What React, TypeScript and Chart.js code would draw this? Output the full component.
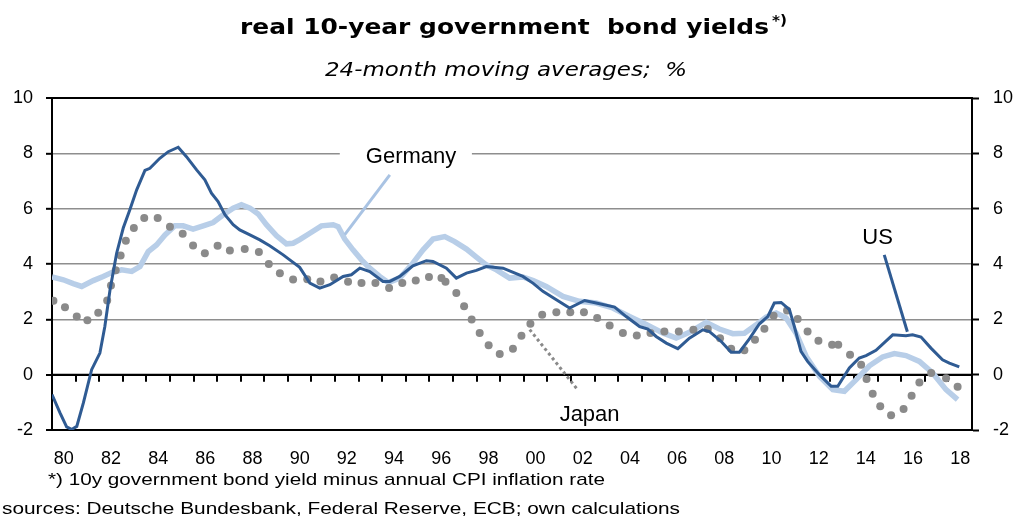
import React, { useEffect, useRef } from "react";
import { Chart, registerables } from "chart.js";

Chart.register(...registerables);

// ---------------- data ----------------
const usYears = [1980.0, 1980.34, 1980.62, 1980.83, 1981.05, 1981.33, 1981.68, 1982.03, 1982.24, 1982.46, 1982.74, 1983.02, 1983.3, 1983.59, 1983.94, 1984.15, 1984.57, 1984.93, 1985.35, 1985.7, 1986.13, 1986.48, 1986.76, 1987.04, 1987.33, 1987.68, 1987.96, 1988.39, 1988.81, 1989.23, 1989.8, 1990.08, 1990.5, 1990.93, 1991.35, 1991.78, 1992.34, 1992.69, 1993.05, 1993.47, 1994.03, 1994.32, 1994.74, 1995.3, 1995.87, 1996.15, 1996.72, 1997.14, 1997.57, 1997.99, 1998.41, 1999.12, 1999.96, 2000.4, 2000.81, 2001.38, 2001.94, 2002.58, 2003.07, 2003.85, 2004.34, 2004.91, 2005.26, 2005.61, 2006.04, 2006.53, 2007.02, 2007.59, 2007.87, 2008.37, 2008.79, 2009.14, 2009.57, 2009.99, 2010.34, 2010.62, 2010.91, 2011.26, 2011.47, 2011.75, 2012.03, 2012.53, 2013.03, 2013.31, 2013.8, 2014.22, 2014.51, 2014.93, 2015.64, 2016.2, 2016.48, 2016.84, 2017.26, 2017.75, 2018.04, 2018.46];
const usYield = [-0.72, -1.38, -1.89, -1.98, -1.87, -1.02, 0.18, 0.78, 1.74, 3.07, 4.39, 5.3, 5.96, 6.68, 7.38, 7.46, 7.82, 8.06, 8.22, 7.88, 7.4, 7.04, 6.56, 6.26, 5.78, 5.42, 5.23, 5.05, 4.87, 4.66, 4.33, 4.15, 3.88, 3.31, 3.13, 3.25, 3.55, 3.61, 3.85, 3.73, 3.37, 3.37, 3.55, 3.93, 4.12, 4.09, 3.85, 3.49, 3.67, 3.77, 3.91, 3.85, 3.55, 3.3, 3.01, 2.71, 2.41, 2.68, 2.59, 2.44, 2.1, 1.74, 1.65, 1.38, 1.14, 0.94, 1.32, 1.62, 1.56, 1.2, 0.81, 0.81, 1.3, 1.84, 2.1, 2.59, 2.61, 2.35, 1.74, 0.84, 0.48, 0.0, -0.42, -0.42, 0.24, 0.6, 0.69, 0.88, 1.44, 1.41, 1.44, 1.36, 0.96, 0.54, 0.42, 0.28];

const deYears = [1980.0, 1980.48, 1980.9, 1981.26, 1981.75, 1982.17, 1982.53, 1982.95, 1983.38, 1983.73, 1984.08, 1984.43, 1984.79, 1985.21, 1985.56, 1985.98, 1986.41, 1986.83, 1987.26, 1987.68, 1988.03, 1988.39, 1988.74, 1989.09, 1989.52, 1989.94, 1990.22, 1990.5, 1990.93, 1991.42, 1991.92, 1992.13, 1992.41, 1992.76, 1993.12, 1993.47, 1993.89, 1994.25, 1994.74, 1995.24, 1995.73, 1996.15, 1996.65, 1997.07, 1997.57, 1997.99, 1998.41, 1998.84, 1999.4, 1999.96, 2000.4, 2000.95, 2001.66, 2002.36, 2003.07, 2003.77, 2004.48, 2005.19, 2005.89, 2006.46, 2007.02, 2007.73, 2008.29, 2008.86, 2009.35, 2009.85, 2010.27, 2010.7, 2011.12, 2011.54, 2011.97, 2012.53, 2013.1, 2013.59, 2014.09, 2014.65, 2015.21, 2015.71, 2016.2, 2016.77, 2017.33, 2017.9, 2018.39];
const deYield = [3.53, 3.43, 3.29, 3.19, 3.4, 3.55, 3.69, 3.79, 3.73, 3.91, 4.45, 4.69, 5.05, 5.38, 5.38, 5.26, 5.38, 5.5, 5.78, 6.02, 6.14, 6.02, 5.81, 5.42, 5.02, 4.73, 4.75, 4.88, 5.11, 5.38, 5.42, 5.35, 4.9, 4.51, 4.15, 3.85, 3.55, 3.33, 3.49, 3.97, 4.51, 4.9, 4.99, 4.81, 4.54, 4.25, 3.97, 3.79, 3.49, 3.53, 3.4, 3.19, 2.83, 2.65, 2.59, 2.41, 2.1, 1.81, 1.51, 1.32, 1.53, 1.89, 1.65, 1.48, 1.5, 1.8, 2.08, 2.23, 2.05, 1.5, 0.66, -0.06, -0.54, -0.6, -0.18, 0.32, 0.64, 0.76, 0.69, 0.48, 0.06, -0.54, -0.9];

const jpYears = [1980.06, 1980.55, 1981.05, 1981.5, 1981.96, 1982.34, 1982.5, 1982.7, 1982.91, 1983.13, 1983.47, 1983.91, 1984.48, 1985.0, 1985.54, 1985.98, 1986.48, 1987.02, 1987.54, 1988.17, 1988.77, 1989.19, 1989.66, 1990.22, 1990.82, 1991.38, 1991.96, 1992.55, 1993.12, 1993.71, 1994.29, 1994.85, 1995.42, 1995.98, 1996.51, 1996.68, 1997.14, 1997.47, 1997.79, 1998.13, 1998.51, 1998.98, 1999.54, 1999.9, 2000.28, 2000.78, 2001.38, 2001.97, 2002.55, 2003.11, 2003.64, 2004.2, 2004.79, 2005.37, 2005.96, 2006.57, 2007.19, 2007.8, 2008.32, 2008.79, 2009.35, 2009.8, 2010.2, 2010.59, 2011.16, 2011.61, 2012.03, 2012.49, 2013.07, 2013.33, 2013.83, 2014.3, 2014.53, 2014.79, 2015.11, 2015.57, 2016.1, 2016.44, 2016.77, 2017.27, 2017.9, 2018.39];
const jpYield = [2.67, 2.44, 2.1, 1.97, 2.24, 2.68, 3.22, 3.77, 4.31, 4.84, 5.3, 5.66, 5.66, 5.35, 5.09, 4.67, 4.39, 4.66, 4.49, 4.54, 4.43, 4.0, 3.67, 3.44, 3.45, 3.37, 3.51, 3.36, 3.31, 3.31, 3.13, 3.31, 3.4, 3.53, 3.49, 3.36, 2.95, 2.47, 1.99, 1.51, 1.06, 0.75, 0.94, 1.41, 1.84, 2.17, 2.26, 2.26, 2.26, 2.05, 1.78, 1.51, 1.42, 1.51, 1.56, 1.56, 1.62, 1.65, 1.32, 0.94, 0.88, 1.26, 1.66, 2.13, 2.32, 2.01, 1.56, 1.23, 1.08, 1.08, 0.72, 0.36, -0.16, -0.69, -1.14, -1.47, -1.24, -0.76, -0.28, 0.06, -0.13, -0.44];

const xLabelYears = [1980, 1982, 1984, 1986, 1988, 1990, 1992, 1994, 1996, 1998, 2000, 2002, 2004, 2006, 2008, 2010, 2012, 2014, 2016, 2018];
const xLabels = ["80", "82", "84", "86", "88", "90", "92", "94", "96", "98", "00", "02", "04", "06", "08", "10", "12", "14", "16", "18"];
const yMin = -2;
const yMax = 10;
const yStep = 2;

const TITLE = "real 10-year government  bond yields";
const TITLE_SUP = "*)";
const SUBTITLE = "24-month moving averages;  %";
const FOOTNOTE = "*) 10y government bond yield minus annual CPI inflation rate";
const SOURCES = "sources: Deutsche Bundesbank, Federal Reserve, ECB; own calculations";

// annotation anchors in data units (year, %)
const germanyLabel = { text: "Germany", x: 1995.22, y: 7.66 };
const germanyLeader = [[1994.32, 7.22], [1992.41, 5.06]];
const germanyGridGap = [1992.2, 1997.8];
const usLabel = { text: "US", x: 2015.0, y: 4.72 };
const usLeader = [[2015.28, 4.33], [2016.26, 1.55]];
const japanLabel = { text: "Japan", x: 2002.79, y: -1.66 };
const japanLeader = [[2000.25, 1.63], [2002.28, -0.54]];

const US_COLOR = "#2f5b93";
const DE_COLOR = "#b8cee8";
const JP_COLOR = "#8a8a8a";
const GRID_GRAY = "#8e8e8e";

// draws text starting at `left`, stretched horizontally to span `width`
function drawSpanText(ctx: CanvasRenderingContext2D, text: string, left: number, baseline: number, font: string, width: number) {
  ctx.save();
  ctx.font = font;
  ctx.fillStyle = "#000";
  ctx.textAlign = "left";
  ctx.textBaseline = "alphabetic";
  const w = ctx.measureText(text).width;
  ctx.translate(left, baseline);
  ctx.scale(width / w, 1);
  ctx.fillText(text, 0, 0);
  ctx.restore();
}

function drawCenterText(ctx: CanvasRenderingContext2D, text: string, cx: number, baseline: number, font: string) {
  ctx.save();
  ctx.font = font;
  ctx.fillStyle = "#000";
  ctx.textAlign = "center";
  ctx.textBaseline = "alphabetic";
  ctx.fillText(text, cx, baseline);
  ctx.restore();
}

const decorPlugin = {
  id: "decor",
  beforeDatasetsDraw(chart: any) {
    const { ctx, scales } = chart;
    const x = scales.x, y = scales.y;
    // gap in the 8% gridline behind the "Germany" label
    ctx.save();
    ctx.fillStyle = "#fff";
    const x0 = x.getPixelForValue(germanyGridGap[0]);
    const x1 = x.getPixelForValue(germanyGridGap[1]);
    const y8 = y.getPixelForValue(8);
    ctx.fillRect(x0, y8 - 3, x1 - x0, 6);
    ctx.restore();
    // zero axis line with year tick marks
    const y0 = y.getPixelForValue(0);
    ctx.save();
    ctx.strokeStyle = "#000";
    ctx.lineWidth = 2;
    ctx.beginPath();
    ctx.moveTo(chart.chartArea.left, y0);
    ctx.lineTo(chart.chartArea.right, y0);
    for (let yr = 1981; yr <= 2018; yr++) {
      const px = Math.round(x.getPixelForValue(yr));
      ctx.moveTo(px, y0);
      ctx.lineTo(px, y0 + 7);
    }
    ctx.stroke();
    ctx.restore();
  },
  afterDatasetsDraw(chart: any) {
    const { ctx, scales } = chart;
    const x = scales.x, y = scales.y;
    const P = (p: number[]) => [x.getPixelForValue(p[0]), y.getPixelForValue(p[1])];
    const leader = (pts: number[][], color: string, width: number, dash: number[]) => {
      const a = P(pts[0]);
      const b = P(pts[1]);
      ctx.save();
      ctx.strokeStyle = color;
      ctx.lineWidth = width;
      ctx.setLineDash(dash);
      ctx.beginPath();
      ctx.moveTo(a[0], a[1]);
      ctx.lineTo(b[0], b[1]);
      ctx.stroke();
      ctx.restore();
    };
    leader(germanyLeader, "#a9c3e3", 3, []);
    leader(usLeader, US_COLOR, 3, []);
    leader(japanLeader, JP_COLOR, 3, [3, 3]);
    const labelFont = "22px 'Liberation Sans', Arial, sans-serif";
    for (const l of [germanyLabel, usLabel, japanLabel]) {
      drawCenterText(ctx, l.text, x.getPixelForValue(l.x), y.getPixelForValue(l.y), labelFont);
    }
  },
  afterDraw(chart: any) {
    const ctx = chart.ctx;
    drawSpanText(ctx, TITLE, 240, 34, "bold 21px 'DejaVu Sans', Verdana, sans-serif", 529);
    drawSpanText(ctx, TITLE_SUP, 772, 25, "bold 14px 'DejaVu Sans', Verdana, sans-serif", 15);
    drawSpanText(ctx, SUBTITLE, 325, 76, "italic 19px 'DejaVu Sans', Verdana, sans-serif", 362);
    drawSpanText(ctx, FOOTNOTE, 48, 485, "17px 'Liberation Sans', Arial, sans-serif", 557);
    drawSpanText(ctx, SOURCES, 2, 514, "17px 'Liberation Sans', Arial, sans-serif", 678);
  },
};

export default function App() {
  const ref = useRef<HTMLCanvasElement | null>(null);

  useEffect(() => {
    if (!ref.current) return;
    const tickFont = { family: "'Liberation Sans', Arial, sans-serif", size: 18 };
    const gridColor = (c: any) => {
      const v = c.tick ? c.tick.value : 0;
      return v === yMin || v === yMax || v === 0 ? "#000" : GRID_GRAY;
    };
    const gridWidth = (c: any) => {
      const v = c.tick ? c.tick.value : 0;
      return v === yMin || v === yMax || v === 0 ? 2 : 1.6;
    };
    const chart = new Chart(ref.current, {
      type: "line",
      data: {
        datasets: [
          {
            label: "US",
            data: usYears.map((yr, i) => ({ x: yr, y: usYield[i] })),
            borderColor: US_COLOR,
            borderWidth: 3,
            pointRadius: 0,
            tension: 0,
            fill: false,
            order: 1,
          },
          {
            label: "Japan",
            data: jpYears.map((yr, i) => ({ x: yr, y: jpYield[i] })),
            showLine: false,
            pointRadius: 4,
            pointBackgroundColor: JP_COLOR,
            pointBorderWidth: 0,
            borderColor: JP_COLOR,
            order: 2,
          },
          {
            label: "Germany",
            data: deYears.map((yr, i) => ({ x: yr, y: deYield[i] })),
            borderColor: DE_COLOR,
            borderWidth: 5.5,
            pointRadius: 0,
            tension: 0,
            fill: false,
            order: 3,
          },
        ],
      },
      options: {
        animation: false,
        responsive: false,
        maintainAspectRatio: false,
        layout: { padding: { top: 98, left: 0, right: 0, bottom: 0 } },
        plugins: {
          legend: { display: false },
          tooltip: { enabled: false },
          title: { display: false },
        },
        scales: {
          x: {
            type: "linear",
            min: 1980,
            max: 2019,
            afterBuildTicks: (s: any) => {
              s.ticks = xLabelYears.map((yr) => ({ value: yr + 0.5 }));
            },
            afterFit: (s: any) => {
              s.height = 87;
            },
            ticks: {
              autoSkip: false,
              maxRotation: 0,
              minRotation: 0,
              color: "#000",
              font: tickFont,
              padding: 18,
              callback: (_v: any, i: number) => xLabels[i],
            },
            grid: { display: false, drawTicks: false },
            border: { display: false },
          },
          y: {
            position: "left",
            min: yMin,
            max: yMax,
            afterFit: (s: any) => {
              s.width = 52;
            },
            ticks: { stepSize: yStep, color: "#000", font: tickFont, padding: 13 },
            grid: {
              color: gridColor,
              lineWidth: gridWidth,
              drawTicks: true,
              tickLength: 6,
              tickColor: "#000",
              tickWidth: 2,
            },
            border: { display: true, color: "#000", width: 2 },
          },
          y2: {
            position: "right",
            min: yMin,
            max: yMax,
            afterFit: (s: any) => {
              s.width = 44;
            },
            ticks: { stepSize: yStep, color: "#000", font: tickFont, padding: 14 },
            grid: {
              drawOnChartArea: false,
              drawTicks: true,
              tickLength: 7,
              tickColor: "#000",
              tickWidth: 2,
            },
            border: { display: true, color: "#000", width: 2 },
          },
        },
      },
      plugins: [decorPlugin],
    } as any);
    return () => chart.destroy();
  }, []);

  return (
    <div style={{ position: "absolute", left: 0, top: 0, width: 1016, height: 517, background: "#fff" }}>
      <canvas ref={ref} width={1016} height={517} style={{ width: 1016, height: 517, display: "block" }} />
    </div>
  );
}
